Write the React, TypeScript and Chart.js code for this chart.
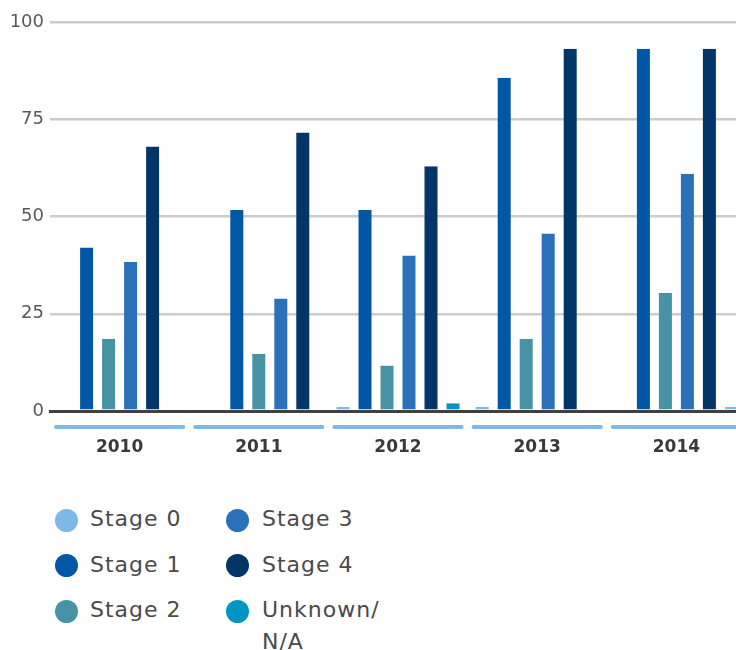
import React, { useEffect, useRef } from 'react';
import { Chart, registerables } from 'chart.js';

Chart.register(...registerables);

// Diagnosed cases per year and stage
const years = ['2010', '2011', '2012', '2013', '2014'];
const seriesNames = ['Stage 0', 'Stage 1', 'Stage 2', 'Stage 3', 'Stage 4', 'Unknown/N/A'];
const stage0: (number | null)[] = [null, 0, 1, 1, 0];
const stage1: (number | null)[] = [42, 51.7, 51.7, 85.7, 93.1];
const stage2: (number | null)[] = [18.6, 14.7, 11.7, 18.6, 30.4];
const stage3: (number | null)[] = [38.3, 28.9, 40, 45.6, 61];
const stage4: (number | null)[] = [68, 71.6, 62.9, 93.1, 93.1];
const unknown: (number | null)[] = [null, null, 2, 0, 1];
const yTicks = [0, 25, 50, 75, 100];

const seriesColors = ['#7cb9e6', '#0057a6', '#4793a6', '#2b71b9', '#023668', '#0095c4'];
const unknownBarColors = ['#0095c4', '#0095c4', '#0095c4', '#0095c4', '#7cb9e6'];

const FONT = "'DejaVu Sans', sans-serif";

// Rounded light-blue rule under each year band
const categoryUnderline = {
  id: 'categoryUnderline',
  afterDraw(chart: any) {
    const x = chart.scales.x;
    const ctx = chart.ctx;
    const half = (x.getPixelForValue(1) - x.getPixelForValue(0)) / 2;
    const y = chart.chartArea.bottom + 16;
    ctx.save();
    ctx.strokeStyle = '#7cb9e6';
    ctx.lineWidth = 4;
    ctx.lineCap = 'round';
    years.forEach((_, i) => {
      const c = x.getPixelForValue(i);
      ctx.beginPath();
      ctx.moveTo(c - half + 6, y);
      ctx.lineTo(c + half - 6, y);
      ctx.stroke();
    });
    ctx.restore();
  },
};

export default function App() {
  const canvasRef = useRef<HTMLCanvasElement | null>(null);

  useEffect(() => {
    if (!canvasRef.current) return;
    const values = [stage0, stage1, stage2, stage3, stage4, unknown];
    const chart = new Chart(canvasRef.current, {
      type: 'bar',
      data: {
        labels: years,
        datasets: seriesNames.map((name, i) => ({
          label: name,
          data: values[i],
          backgroundColor: i === 5 ? unknownBarColors : seriesColors[i],
          borderColor: 'rgba(0,0,0,0)',
          borderWidth: { left: 4.5, right: 4.5, top: 0, bottom: 0 },
          barThickness: 22,
          skipNull: true,
          inflateAmount: 0,
        })),
      },
      options: {
        animation: false,
        responsive: false,
        devicePixelRatio: 1,
        layout: { padding: { top: 22, left: 0, right: 0, bottom: 0 } },
        plugins: {
          legend: { display: false },
          tooltip: { enabled: false },
        },
        scales: {
          x: {
            grid: { display: false },
            border: { display: true, color: '#404040', width: 3, z: 1 },
            ticks: {
              padding: 18,
              color: '#3a3a3a',
              font: { family: FONT, size: 17, weight: 'bold' },
            },
            afterFit(scale: any) {
              scale.height = 59;
            },
          },
          y: {
            min: 0,
            max: 100,
            afterBuildTicks(scale: any) {
              scale.ticks = yTicks.map((v) => ({ value: v }));
            },
            border: { display: false },
            grid: {
              drawTicks: false,
              color: (ctx: any) => (ctx.tick && ctx.tick.value === 0 ? '#404040' : '#cccccc'),
              lineWidth: (ctx: any) => (ctx.tick && ctx.tick.value === 0 ? 3 : 2.5),
            },
            ticks: {
              padding: 6,
              color: '#595959',
              font: { family: FONT, size: 18 },
            },
            afterFit(scale: any) {
              scale.width = 50;
            },
          },
        },
      },
      plugins: [categoryUnderline],
    });
    return () => chart.destroy();
  }, []);

  const legendOrder = [0, 1, 2, 3, 4, 5];

  return (
    <div
      style={{
        position: 'fixed',
        left: 0,
        top: 0,
        width: 736,
        height: 650,
        overflow: 'hidden',
        background: '#ffffff',
      }}
    >
      <canvas
        ref={canvasRef}
        width={746}
        height={470}
        style={{ position: 'absolute', left: 0, top: 0 }}
      />
      {legendOrder.map((si, k) => {
        const col = Math.floor(k / 3);
        const row = k % 3;
        const cx = col === 0 ? 66 : 237.5;
        const cy = 520 + row * 45.5;
        const textLeft = col === 0 ? 90 : 262;
        const name = seriesNames[si];
        const label = name === 'Unknown/N/A' ? 'Unknown/\nN/A' : name;
        return (
          <React.Fragment key={name}>
            <div
              style={{
                position: 'absolute',
                left: cx - 11.5,
                top: cy - 11.5,
                width: 23,
                height: 23,
                borderRadius: '50%',
                background: seriesColors[si],
              }}
            />
            <div
              style={{
                position: 'absolute',
                left: textLeft,
                top: cy - 17,
                fontFamily: FONT,
                fontSize: 22,
                lineHeight: '32px',
                letterSpacing: '1px',
                color: '#4a4a4a',
                whiteSpace: 'pre-line',
              }}
            >
              {label}
            </div>
          </React.Fragment>
        );
      })}
    </div>
  );
}
